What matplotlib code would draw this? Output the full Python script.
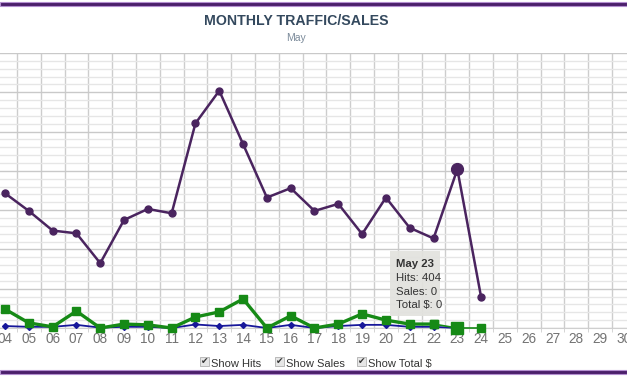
import matplotlib.pyplot as plt
from matplotlib.patches import Rectangle
from matplotlib.ticker import MultipleLocator, FixedLocator

plt.rcParams["font.family"] = ["Liberation Sans", "DejaVu Sans"]

# ------------------------------------------------------------------ #
# Data
# ------------------------------------------------------------------ #
days = list(range(4, 31))
day_labels = [f"{d:02d}" for d in days]

hit_days = list(range(4, 25))
hits = [343, 298, 248, 241, 165, 275, 303, 292, 521, 604, 468,
        332, 356, 298, 316, 239, 332, 255, 228, 404, 78]

sales_days = list(range(4, 24))
sales = [5, 3, 3, 8, 1, 3, 3, 0, 9, 5, 8, 0, 8, 0, 5, 8, 8, 3, 3, 0]

total_days = list(range(4, 25))
total = [48, 13, 3, 43, 0, 10, 8, 0, 28, 41, 74, 0, 31, 0, 10, 36,
         20, 10, 10, 0, 0]

hover_day = 23
tooltip_lines = ["Hits: 404", "Sales: 0", "Total $: 0"]

PURPLE = "#4a245f"
GREEN = "#168a16"
BLUE = "#17179a"

# ------------------------------------------------------------------ #
# Figure
# ------------------------------------------------------------------ #
W, H = 627, 376
fig = plt.figure(figsize=(W / 100, H / 100), dpi=100)
fig.patch.set_facecolor("white")

ax = fig.add_axes([0, (H - 328) / H, 1, (328 - 53) / H])
ax.set_xlim(4 - 5 / 23.81, 30 + 3 / 23.81)
ax.set_ylim(0, 700)

# grid
ax.yaxis.set_major_locator(MultipleLocator(100))
ax.yaxis.set_minor_locator(MultipleLocator(20))
ax.grid(which="major", axis="y", color="#c9c9c9", lw=1)
ax.grid(which="minor", axis="y", color="#e6e6e6", lw=1)
ax.xaxis.set_major_locator(FixedLocator(days))
ax.xaxis.set_minor_locator(FixedLocator([d + 0.5 for d in days]))
ax.grid(which="minor", axis="x", color="#cdcdcd", lw=1)
ax.set_axisbelow(True)

for s in ["top", "left", "right"]:
    ax.spines[s].set_visible(False)
ax.spines["bottom"].set_color("#cfcfcf")
ax.tick_params(axis="y", which="both", left=False, labelleft=False)
ax.tick_params(axis="x", which="major", length=0, pad=3,
               labelsize=9.8, labelcolor="#737373")
ax.tick_params(axis="x", which="minor", length=3, color="#cdcdcd")
ax.set_xticklabels(day_labels)

# series
ax.plot(hit_days, hits, color=PURPLE, lw=1.8, marker="o", ms=5,
        zorder=5, clip_on=False)
ax.plot(total_days[:19], total[:19], color=GREEN, lw=2.4, marker="s",
        ms=5.5, zorder=4, clip_on=False)
ax.plot(total_days[18:], total[18:], color=GREEN, lw=1.2, marker="s",
        ms=5.5, zorder=4, clip_on=False)
ax.plot(sales_days, sales, color=BLUE, lw=1.3, marker="D", ms=3,
        zorder=3, clip_on=False)

# hovered point
hi = hit_days.index(hover_day)
ti = total_days.index(hover_day)
ax.plot([hover_day], [hits[hi]], "o", color=PURPLE, ms=8.5, zorder=6)
ax.plot([hover_day], [total[ti]], "s", color=GREEN, ms=8.5, zorder=6,
        clip_on=False)

# tooltip
fig.patches.append(Rectangle((390 / W, (H - 316) / H), 50 / W, 65 / H,
                             transform=fig.transFigure, facecolor="#e2e2de",
                             edgecolor="none", alpha=0.92, zorder=10))
fig.text(396 / W, (H - 264) / H, f"May {hover_day}", fontsize=8.2,
         fontweight="bold", color="#333333", va="center", zorder=11)
for k, line in enumerate(tooltip_lines):
    fig.text(396 / W, (H - 278 - 13.7 * k) / H, line, fontsize=8.2,
             color="#333333", va="center", zorder=11)

# title
fig.text(296 / W, (H - 21) / H, "MONTHLY TRAFFIC/SALES", ha="center",
         va="center", fontsize=10.2, fontweight="bold", color="#34495e")
fig.text(296 / W, (H - 38) / H, "May", ha="center", va="center",
         fontsize=7.5, color="#7b8a9a")

# checkboxes
boxes = [(200, "Show Hits"), (275, "Show Sales"), (357, "Show Total $")]
for bx, label in boxes:
    fig.patches.append(Rectangle((bx / W, (H - 366) / H), 9 / W, 9 / H,
                                 transform=fig.transFigure,
                                 facecolor="#e6e6e6", edgecolor="#b0b0b0",
                                 lw=0.6))
    fig.text((bx + 4.5) / W, (H - 361.5) / H, "\u2714", ha="center",
             va="center", fontsize=6.5, color="#333333",
             family="DejaVu Sans")
    fig.text((bx + 11) / W, (H - 364) / H, label, va="center",
             fontsize=8, color="#333333")

# purple borders
for y0, h in [(2, 4), (370, 3.5)]:
    fig.patches.append(Rectangle((0, (H - y0 - h) / H), 1, h / H,
                                 transform=fig.transFigure,
                                 facecolor="#4b1f6b", edgecolor="#b48fd0",
                                 lw=0.8))

fig.savefig("out.png", dpi=100)
